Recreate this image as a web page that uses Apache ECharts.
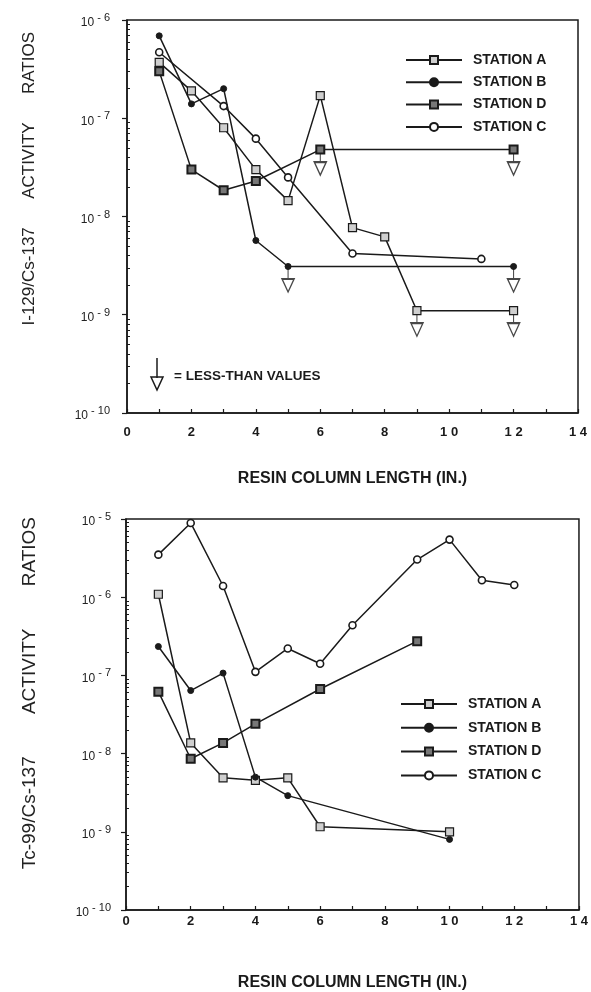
<!DOCTYPE html>
<html>
<head>
<meta charset="utf-8">
<script src="https://cdn.jsdelivr.net/npm/echarts@6/dist/echarts.min.js"></script>
<style>
	html, body { margin: 0; padding: 0; background: #fff; }
	#chart { width: 591px; height: 992px; }
</style>
</head>
<body>
<div id="chart"></div>
<script>
// I-129/Cs-137 panel (top)
var topAx = [1, 2, 3, 4, 5, 6, 7, 8, 9, 12];
var topAy = [3.7e-7, 1.9e-7, 8.0e-8, 3.0e-8, 1.45e-8, 1.7e-7, 7.7e-9, 6.2e-9, 1.1e-9, 1.1e-9];
var topAlt = [9, 12];
var topBx = [1, 2, 3, 4, 5, 12];
var topBy = [6.9e-7, 1.4e-7, 2.0e-7, 5.7e-9, 3.1e-9, 3.1e-9];
var topBlt = [5, 12];
var topDx = [1, 2, 3, 4, 6, 12];
var topDy = [3.0e-7, 3.0e-8, 1.85e-8, 2.3e-8, 4.8e-8, 4.8e-8];
var topDlt = [6, 12];
var topCx = [1, 3, 4, 5, 7, 11];
var topCy = [4.7e-7, 1.33e-7, 6.2e-8, 2.5e-8, 4.2e-9, 3.7e-9];

// Tc-99/Cs-137 panel (bottom)
var botAx = [1, 2, 3, 4, 5, 6, 10];
var botAy = [1.09e-6, 1.37e-8, 4.9e-9, 4.55e-9, 4.9e-9, 1.16e-9, 1.0e-9];
var botBx = [1, 2, 3, 4, 5, 10];
var botBy = [2.34e-7, 6.4e-8, 1.07e-7, 5.0e-9, 2.9e-9, 8.0e-10];
var botDx = [1, 2, 3, 4, 6, 9];
var botDy = [6.2e-8, 8.6e-9, 1.37e-8, 2.4e-8, 6.7e-8, 2.74e-7];
var botCx = [1, 2, 3, 4, 5, 6, 7, 9, 10, 11, 12];
var botCy = [3.5e-6, 8.9e-6, 1.39e-6, 1.11e-7, 2.21e-7, 1.41e-7, 4.38e-7, 3.03e-6, 5.45e-6, 1.65e-6, 1.43e-6];

var stations = ['STATION A', 'STATION B', 'STATION D', 'STATION C'];
var topDecades = [-10, -9, -8, -7, -6];
var botDecades = [-10, -9, -8, -7, -6, -5];

var ink = '#1a1a1a';
var font = 'Liberation Sans';

var markers = {
	'STATION A': { symbol: 'rect', size: 8, style: { color: '#cfcfcf', borderColor: ink, borderWidth: 1.2 } },
	'STATION B': { symbol: 'circle', size: 6, style: { color: ink, borderColor: ink, borderWidth: 1 } },
	'STATION D': { symbol: 'rect', size: 8, style: { color: '#777', borderColor: ink, borderWidth: 2 } },
	'STATION C': { symbol: 'circle', size: 7, style: { color: '#fff', borderColor: ink, borderWidth: 1.6 } }
};

function minorValues(decs) {
	var out = [];
	for (var i = 0; i < decs.length - 1; i++) {
		for (var m = 2; m <= 9; m++) out.push(m * Math.pow(10, decs[i]));
	}
	return out;
}

function pairs(xs, ys) {
	return xs.map(function(x, i) { return [x, ys[i]]; });
}

function lessThan(xs, ys, lt) {
	return pairs(xs, ys).filter(function(p) { return lt.indexOf(p[0]) >= 0; });
}

function station(name, xs, ys, axis) {
	var m = markers[name];
	return {
		name: name,
		type: 'line',
		xAxisIndex: axis,
		yAxisIndex: axis * 2,
		data: pairs(xs, ys),
		symbol: m.symbol,
		symbolSize: m.size,
		showAllSymbol: true,
		itemStyle: m.style,
		lineStyle: { color: ink, width: 1.5 },
		z: 3,
		animation: false
	};
}

var arrowPath = 'path://M7 0 L7 12 M1 12 L13 12 L7 25 Z';
function arrows(data, axis) {
	return {
		type: 'scatter',
		xAxisIndex: axis,
		yAxisIndex: axis * 2,
		data: data,
		symbol: arrowPath,
		symbolSize: [12, 25],
		symbolOffset: [0, 13],
		itemStyle: { color: 'rgba(0,0,0,0)', borderColor: ink, borderWidth: 1.5 },
		silent: true,
		z: 2,
		animation: false
	};
}

function yLabel(v) {
	var e = Math.round(Math.log10(v));
	return '{b|10}{s| - ' + (-e) + '}';
}

function majorY(grid, decs, margin) {
	return {
		type: 'log',
		gridIndex: grid,
		min: Math.pow(10, decs[0]),
		max: Math.pow(10, decs[decs.length - 1]),
		logBase: 10,
		axisLine: { show: true, lineStyle: { color: ink, width: 1.5 } },
		axisTick: { show: true, inside: false, length: 5, lineStyle: { color: ink, width: 1.2 },
			customValues: decs.map(function(e) { return Math.pow(10, e); }) },
		axisLabel: {
			margin: margin,
			customValues: decs.map(function(e) { return Math.pow(10, e); }),
			formatter: yLabel,
			rich: {
				b: { fontFamily: font, fontSize: 12, color: '#222', padding: [6, 0, 0, 0] },
				s: { fontFamily: font, fontSize: 11, color: '#222', padding: [0, 0, 4, 0] }
			}
		},
		splitLine: { show: false }
	};
}

function minorY(grid, decs) {
	return {
		type: 'log',
		gridIndex: grid,
		min: Math.pow(10, decs[0]),
		max: Math.pow(10, decs[decs.length - 1]),
		logBase: 10,
		position: 'left',
		axisLine: { show: false },
		axisTick: { show: true, inside: true, length: 3, lineStyle: { color: ink, width: 1 },
			customValues: minorValues(decs) },
		axisLabel: { show: false },
		splitLine: { show: false }
	};
}

function xAxis(grid, margin, gap) {
	return {
		type: 'value',
		gridIndex: grid,
		min: 0,
		max: 14,
		interval: 1,
		name: 'RESIN COLUMN LENGTH (IN.)',
		nameLocation: 'middle',
		nameGap: gap,
		nameTextStyle: { fontFamily: font, fontSize: 16, fontWeight: 'bold', color: ink },
		axisLine: { lineStyle: { color: ink, width: 1.5 } },
		axisTick: { inside: true, length: 4, lineStyle: { color: ink, width: 1.2 } },
		axisLabel: {
			margin: margin,
			fontFamily: font,
			fontSize: 13,
			fontWeight: 'bold',
			color: ink,
			formatter: function(v) { return v % 2 === 0 ? String(v).split('').join(' ') : ''; }
		},
		splitLine: { show: false }
	};
}

function legend(left, top, gap) {
	return {
		data: stations,
		orient: 'vertical',
		left: left,
		top: top,
		itemWidth: 56,
		itemHeight: 10,
		itemGap: gap,
		selectedMode: false,
		padding: 0,
		textStyle: { fontFamily: font, fontSize: 14, fontWeight: 'bold', color: ink, padding: [0, 0, 0, 6] }
	};
}

var chart = echarts.init(document.getElementById('chart'), null, { renderer: 'canvas' });
var option = {
	backgroundColor: '#fff',
	animation: false,
	grid: [
		{ left: 127, top: 20, width: 451, height: 393, show: true, borderColor: ink, borderWidth: 1.5, backgroundColor: 'transparent' },
		{ left: 126, top: 519, width: 454, height: 393, show: true, borderColor: ink, borderWidth: 1.5, backgroundColor: 'transparent' }
	],
	xAxis: [xAxis(0, 13, 58), xAxis(1, 5, 65)],
	yAxis: [majorY(0, topDecades, 17), minorY(0, topDecades), majorY(1, botDecades, 15), minorY(1, botDecades)],
	legend: [legend(405, 53, 8.3), legend(400, 697, 9.8)],
	graphic: [
		{ type: 'text', left: 21, top: 32, rotation: Math.PI / 2,
			style: { text: 'I-129/Cs-137      ACTIVITY      RATIOS', fontFamily: font, fontSize: 17, fill: '#222' } },
		{ type: 'text', left: 20, top: 517, rotation: Math.PI / 2,
			style: { text: 'Tc-99/Cs-137        ACTIVITY        RATIOS', fontFamily: font, fontSize: 19, fill: '#222' } },
		{ type: 'line', shape: { x1: 157, y1: 358, x2: 157, y2: 378 }, style: { stroke: ink, lineWidth: 1.5 } },
		{ type: 'polygon', shape: { points: [[151, 377], [163, 377], [157, 390]] }, style: { fill: 'none', stroke: ink, lineWidth: 1.5 } },
		{ type: 'text', left: 174, top: 369, style: { text: '= LESS-THAN VALUES', fontFamily: font, fontSize: 13.5, fontWeight: 'bold', fill: ink } }
	],
	series: [
		arrows(lessThan(topAx, topAy, topAlt).concat(lessThan(topBx, topBy, topBlt), lessThan(topDx, topDy, topDlt)), 0),
		station('STATION A', topAx, topAy, 0),
		station('STATION B', topBx, topBy, 0),
		station('STATION D', topDx, topDy, 0),
		station('STATION C', topCx, topCy, 0),
		station('STATION A', botAx, botAy, 1),
		station('STATION B', botBx, botBy, 1),
		station('STATION D', botDx, botDy, 1),
		station('STATION C', botCx, botCy, 1)
	]
};
chart.setOption(option);
</script>
</body>
</html>
